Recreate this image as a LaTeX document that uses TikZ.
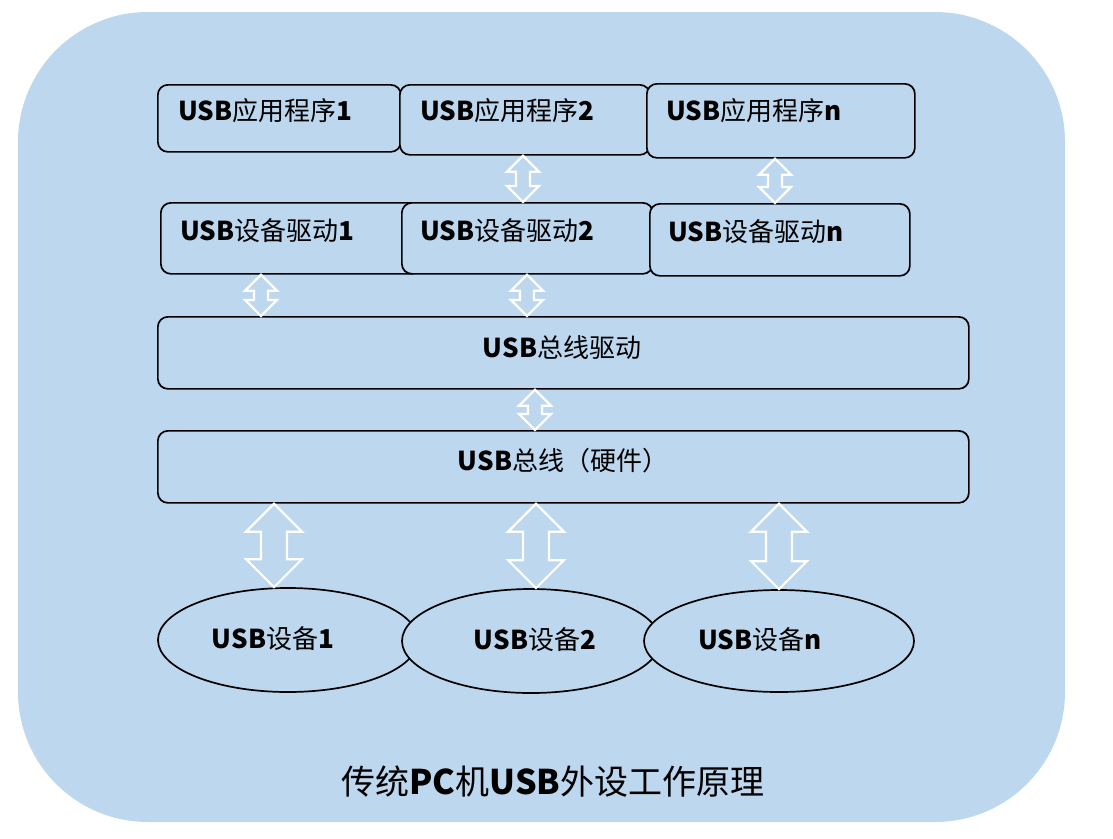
\documentclass[tikz,border=0pt]{standalone}
\usepackage{fontspec}
\setmainfont{Noto Sans CJK SC}
\usetikzlibrary{calc,shapes.geometric}
\definecolor{bg}{HTML}{BDD7EE}
\newcommand\lb[1]{{\bfseries #1}}
\newcommand\bidir[5]{%
  \draw[barrow] let \p1=#1, \p2=#2 in
  (\x1,\y1) -- (\x1+#4pt,\y1-#3pt) -- (\x1+#5pt,\y1-#3pt) -- (\x1+#5pt,\y2+#3pt)
  -- (\x1+#4pt,\y2+#3pt) -- (\x1,\y2) -- (\x1-#4pt,\y2+#3pt) -- (\x1-#5pt,\y2+#3pt)
  -- (\x1-#5pt,\y1-#3pt) -- (\x1-#4pt,\y1-#3pt) -- cycle;}
\begin{document}
\begin{tikzpicture}[x=1pt,y=-1pt,
  box/.style={draw=black,line width=1.7pt,fill=bg,rounded corners=10pt,inner sep=0pt,anchor=north west},
  ell/.style={ellipse,draw=black,line width=1.7pt,fill=bg,inner sep=0pt},
  lbl/.style={inner sep=0pt,font=\fontsize{26}{30}\selectfont},
  captext/.style={inner sep=0pt,font=\fontsize{34}{40}\selectfont},
  barrow/.style={draw=white,line width=2.2pt,line join=miter}]
\useasboundingbox (0,0) rectangle (1113,838);
\fill[bg,rounded corners=130pt] (18,12) rectangle (1065,822);

% application boxes
\node[box,minimum width=243,minimum height=67] (app1) at (157,84) {};
\node[box,minimum width=250,minimum height=70] (app2) at (399,84) {};
\node[box,minimum width=268,minimum height=74] (appn) at (646,83) {};
% device driver boxes
\node[box,minimum width=260,minimum height=71] (drv1) at (160,202) {};
\node[box,minimum width=251,minimum height=71] (drv2) at (401,202) {};
\node[box,minimum width=260,minimum height=72] (drvn) at (649,203) {};
% bus boxes
\node[box,minimum width=811,minimum height=72] (bdrv) at (157,316) {};
\node[box,minimum width=811,minimum height=72] (bhw) at (157,430) {};
% devices
\node[ell,minimum width=260,minimum height=104] (dev1) at (288,640) {};
\node[ell,minimum width=258,minimum height=104] (dev2) at (531,641) {};
\node[ell,minimum width=270,minimum height=102] (devn) at (779,641) {};

% labels
\node[lbl,anchor=west] (tapp1) at (178,111) {\lb{USB}应用程序\lb{1}};
\node[lbl,anchor=west] (tapp2) at (420,111) {\lb{USB}应用程序\lb{2}};
\node[lbl,anchor=west] (tappn) at (666,111) {\lb{USB}应用程序\lb{n}};
\node[lbl,anchor=west] (tdrv1) at (180,231) {\lb{USB}设备驱动\lb{1}};
\node[lbl,anchor=west] (tdrv2) at (420,231) {\lb{USB}设备驱动\lb{2}};
\node[lbl,anchor=west] (tdrvn) at (668,232) {\lb{USB}设备驱动\lb{n}};
\node[lbl] (tbdrv) at (562,348) {\lb{USB}总线驱动};
\node[lbl] (tbhw) at (563,461) {\lb{USB}总线（硬件）};
\node[lbl] (tdev1) at (273,639) {\lb{USB}设备\lb{1}};
\node[lbl] (tdev2) at (535,640) {\lb{USB}设备\lb{2}};
\node[lbl] (tdevn) at (760,640) {\lb{USB}设备\lb{n}};
\node[captext] (caption) at (553,782) {传统\lb{PC}机\lb{USB}外设工作原理};

% arrow columns
\coordinate (ca) at (523,0);
\coordinate (cb) at (775,0);
\coordinate (cc) at (261,0);
\coordinate (cd) at (527,0);
\coordinate (ce) at (535,0);
\coordinate (cf) at (274,0);
\coordinate (cg) at (536,0);
\coordinate (ch) at (779,0);

\bidir{(app2.south -| ca)}{(drv2.north -| ca)}{16}{16}{7}
\bidir{(appn.south -| cb)}{(drvn.north -| cb)}{16}{16}{7}
\bidir{(drv1.south -| cc)}{(bdrv.north -| cc)}{16}{16}{7}
\bidir{(drv2.south -| cd)}{(bdrv.north -| cd)}{16}{16}{7}
\bidir{(bdrv.south -| ce)}{(bhw.north -| ce)}{16}{16}{7}
\bidir{(bhw.south -| cf)}{(dev1.north -| cf)}{28}{28}{13}
\bidir{(bhw.south -| cg)}{(dev2.north -| cg)}{28}{28}{13}
\bidir{(bhw.south -| ch)}{(devn.north -| ch)}{28}{28}{13}
\end{tikzpicture}
\end{document}
